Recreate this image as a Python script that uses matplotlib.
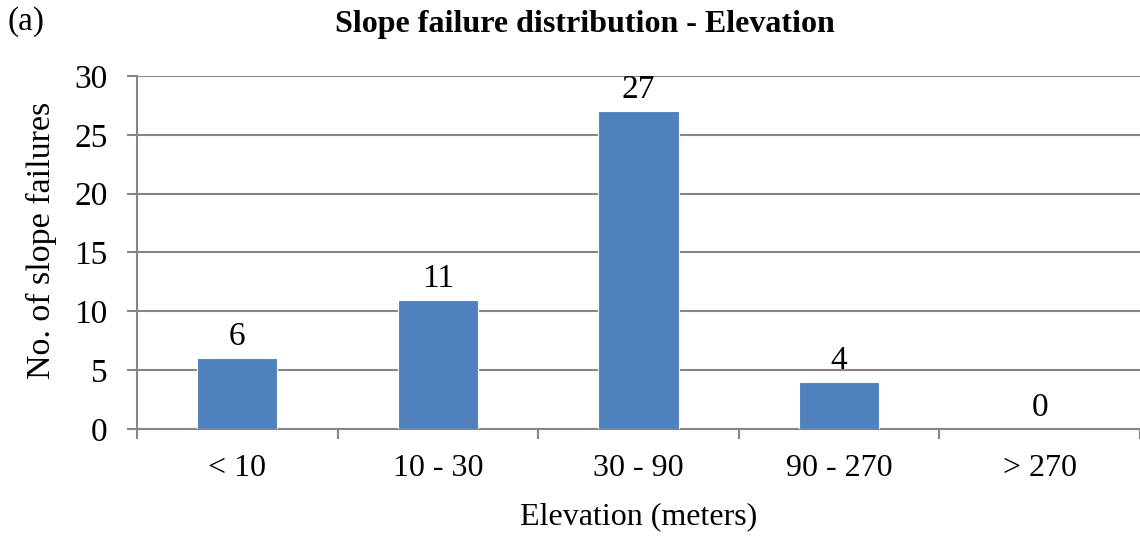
import matplotlib.pyplot as plt
import numpy as np

plt.rcParams['font.family'] = 'Liberation Serif'

categories = ['< 10', '10 - 30', '30 - 90', '90 - 270', '> 270']
counts = [6, 11, 27, 4, 0]

fig = plt.figure(figsize=(11.4, 5.39), dpi=100)
ax = fig.add_axes([0.1202, 0.2041, 0.8798, 0.655])

x = np.arange(len(categories))
ax.bar(x, counts, width=0.4, color='#4f81bd', edgecolor='white', linewidth=0.8, zorder=3)
for xi, v in zip(x, counts):
    ax.text(xi, v + 0.5, str(v), ha='center', va='bottom', fontsize=24)

ax.set_xlim(-0.5, len(categories) - 0.5)
ax.set_ylim(0, 30)
ax.set_yticks(range(0, 31, 5))
ax.yaxis.grid(True, color='#868686', linewidth=1.5, zorder=0)
ax.tick_params(axis='y', length=7, width=1.5, color='#868686', labelsize=24, pad=14)
ax.set_xticks(x)
ax.set_xticklabels(categories)
ax.set_xticks(np.arange(-0.5, len(categories), 1), minor=True)
ax.tick_params(axis='x', which='major', length=0, labelsize=23, pad=18)
ax.tick_params(axis='x', which='minor', length=7, width=1.5, color='#868686')
for s in ['top', 'right']:
    ax.spines[s].set_visible(False)
for s in ['left', 'bottom']:
    ax.spines[s].set_color('#868686')
    ax.spines[s].set_linewidth(1.5)

ax.set_xlabel('Elevation (meters)', fontsize=23, labelpad=14)
ax.set_ylabel('No. of slope failures', fontsize=24.5, va='center')
ax.yaxis.set_label_coords(-0.095, 0.535)
fig.text(0.513, 0.955, 'Slope failure distribution - Elevation', ha='center', va='center',
         fontsize=23, fontweight='bold')
fig.text(0.007, 0.96, '(a)', ha='left', va='center', fontsize=24)

fig.savefig('out.png', dpi=100)
